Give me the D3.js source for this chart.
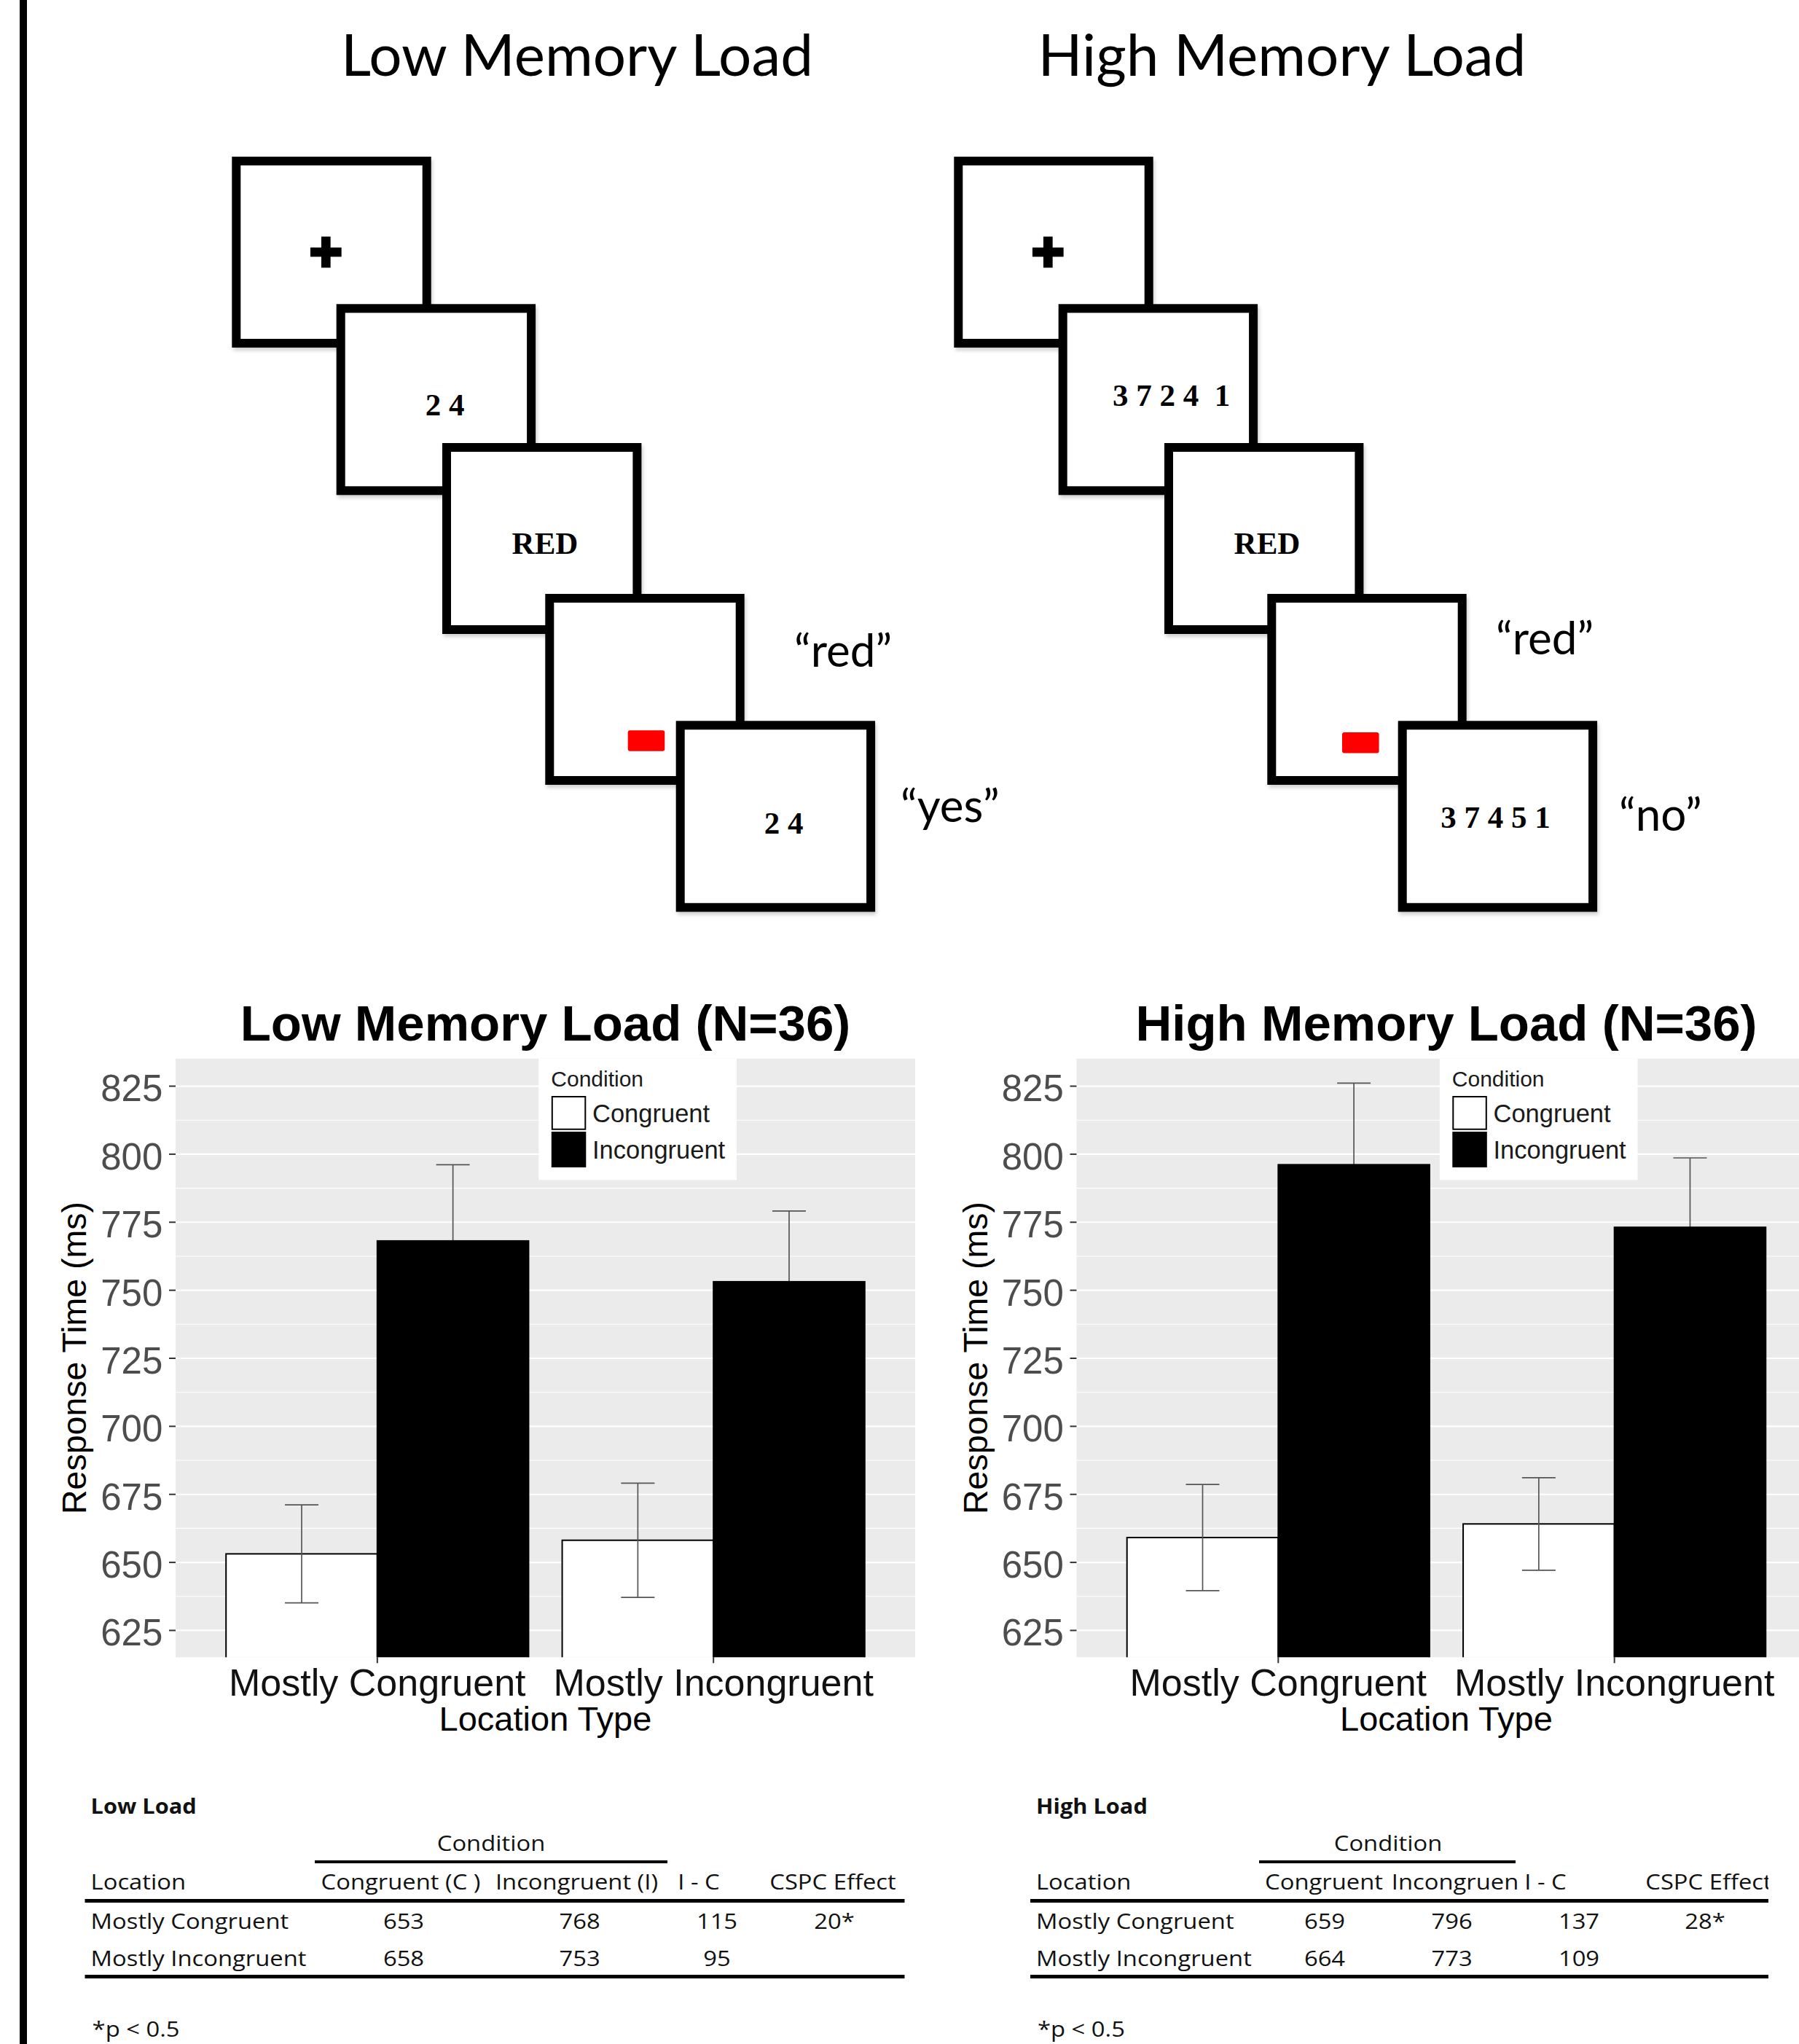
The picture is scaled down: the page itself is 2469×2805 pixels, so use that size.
<!DOCTYPE html>
<html>
<head>
<meta charset="utf-8">
<script src="https://cdn.jsdelivr.net/npm/d3@7"></script>
<style>
  html, body { margin: 0; padding: 0; background: #fff; }
  svg { display: block; }
</style>
</head>
<body>
<svg id="chart" width="2469" height="2805"></svg>
<script>
// ---------------- data ----------------
const locationTypes = ["Mostly Congruent", "Mostly Incongruent"];
const conditions = ["Congruent", "Incongruent"];
const lowMeans = [[653, 768], [658, 753]];
const lowErrors = [[18, 28], [21, 26]];
const highMeans = [[659, 796], [664, 773]];
const highErrors = [[19.5, 30], [17, 25.5]];
const yTicks = [625, 650, 675, 700, 725, 750, 775, 800, 825];
const panelTitles = ["Low Memory Load (N=36)", "High Memory Load (N=36)"];
const diagramTitles = ["Low Memory Load", "High Memory Load"];
const lowSequence = ["+", "2 4", "RED", "", "2 4"];
const highSequence = ["+", "3 7 2 4  1", "RED", "", "3 7 4 5 1"];
const lowResponses = ["\u201Cred\u201D", "\u201Cyes\u201D"];
const highResponses = ["\u201Cred\u201D", "\u201Cno\u201D"];
const tableTitles = ["Low Load", "High Load"];
const lowTableHeader = ["Location", "Congruent (C )", "Incongruent (I)", "I - C", "CSPC Effect"];
const highTableHeader = ["Location", "Congruent", "Incongruen", "I - C", "CSPC Effect"];
const lowTableRows = [["Mostly Congruent", "653", "768", "115", "20*"],
                      ["Mostly Incongruent", "658", "753", "95", ""]];
const highTableRows = [["Mostly Congruent", "659", "796", "137", "28*"],
                       ["Mostly Incongruent", "664", "773", "109", ""]];
const footnote = "*p < 0.5";

// ---------------- setup ----------------
const W = 2469, H = 2805;
const svg = d3.select("#chart");
const defs = svg.append("defs");
const shadow = defs.append("filter").attr("id", "boxShadow")
  .attr("x", "-10%").attr("y", "-10%").attr("width", "130%").attr("height", "130%");
shadow.append("feDropShadow").attr("dx", 2).attr("dy", 4).attr("stdDeviation", 2.5)
  .attr("flood-color", "#000").attr("flood-opacity", 0.18);

svg.append("rect").attr("width", W).attr("height", H).attr("fill", "#fff");
// left border rule
svg.append("rect").attr("x", 27).attr("y", 0).attr("width", 10).attr("height", H).attr("fill", "#000");

const ARIAL = "'Liberation Sans', Arial, Helvetica, sans-serif";
const HUMAN = "Lato, 'Open Sans', sans-serif";
const TABLEF = "'Open Sans', Lato, sans-serif";
const SERIF = "'Liberation Serif', 'Times New Roman', serif";

// ---------------- top diagrams ----------------
const boxOrigins = [[318.3, 215], [461.7, 417.3], [607, 608], [748.3, 815], [927.7, 989.3]];
const boxW = 273.4, boxH = 262, boxStroke = 12;

const diagrams = [
  { dx: 0, title: diagramTitles[0], titleX: 792, seq: lowSequence, resp: lowResponses,
    labels: [null, [148.8, 152.7], [141, 152], null, [147.8, 154.7]],
    red: [113.4, 187.3], respPos: [[1090, 915], [1236, 1128]] },
  { dx: 991, title: diagramTitles[1], titleX: 1759.5, seq: highSequence, resp: highResponses,
    labels: [null, [154.8, 139.7], [141, 152], null, [133.8, 146.7]],
    red: [102.7, 190], respPos: [[2053, 898], [2222, 1140]] }
];

diagrams.forEach(d => {
  const g = svg.append("g");
  g.append("text").attr("x", d.titleX).attr("y", 104).attr("text-anchor", "middle")
    .style("font-family", HUMAN).style("font-size", "80px").attr("fill", "#000").text(d.title);

  boxOrigins.forEach((o, i) => {
    const ox = o[0] + d.dx, oy = o[1];
    g.append("rect")
      .attr("x", ox + boxStroke / 2).attr("y", oy + boxStroke / 2)
      .attr("width", boxW - boxStroke).attr("height", boxH - boxStroke)
      .attr("fill", "#fff").attr("stroke", "#000").attr("stroke-width", boxStroke)
      .attr("filter", "url(#boxShadow)");
    if (d.seq[i] === "+") {
      const cx = ox + 129, cy = oy + 131, L = 42.7, T = 12.7;
      g.append("rect").attr("x", cx - L / 2).attr("y", cy - T / 2).attr("width", L).attr("height", T).attr("fill", "#000");
      g.append("rect").attr("x", cx - T / 2).attr("y", cy - L / 2).attr("width", T).attr("height", L).attr("fill", "#000");
    } else if (i === 3) {
      g.append("rect").attr("x", ox + d.red[0]).attr("y", oy + d.red[1])
        .attr("width", 50.6).attr("height", 28.4).attr("rx", 3).attr("fill", "#ff0000");
    } else if (d.labels[i]) {
      g.append("text").attr("x", ox + d.labels[i][0]).attr("y", oy + d.labels[i][1])
        .attr("text-anchor", "middle").style("white-space", "pre")
        .style("font-family", SERIF).style("font-weight", "bold").style("font-size", "43px")
        .attr("fill", "#000").text(d.seq[i]);
    }
  });
  d.resp.forEach((r, i) => {
    g.append("text").attr("x", d.respPos[i][0]).attr("y", d.respPos[i][1])
      .style("font-family", HUMAN).style("font-size", "62px").attr("fill", "#000").text(r);
  });
});

// ---------------- bar charts ----------------
const panelTop = 1452.7, panelBottom = 2274.3, panelW = 1015;
const color = d3.scaleOrdinal().domain(conditions).range(["#ffffff", "#000000"]);

function drawChart(panelLeft, title, means, errors, idx) {
  const y = d3.scaleLinear().domain([615, 835]).range([panelBottom, panelTop]);
  const x0 = d3.scaleBand().domain(locationTypes).range([panelLeft, panelLeft + panelW])
    .paddingInner(0.1).paddingOuter(0.15);
  const x1 = d3.scaleBand().domain(conditions).range([0, x0.bandwidth()]);
  const g = svg.append("g");

  const clipId = "panelClip" + idx;
  defs.append("clipPath").attr("id", clipId).append("rect")
    .attr("x", panelLeft).attr("y", panelTop).attr("width", panelW).attr("height", panelBottom - panelTop);

  // panel background
  g.append("rect").attr("x", panelLeft).attr("y", panelTop).attr("width", panelW)
    .attr("height", panelBottom - panelTop).attr("fill", "#ebebeb");

  // minor + major grid
  const minorTicks = yTicks.slice(0, -1).map((t, i) => (t + yTicks[i + 1]) / 2);
  const gMinor = g.append("g").attr("transform", `translate(${panelLeft},0)`)
    .call(d3.axisLeft(y).tickValues(minorTicks).tickSize(-panelW).tickFormat(""));
  gMinor.select(".domain").remove();
  gMinor.selectAll("line").attr("stroke", "#fff").attr("stroke-width", 1.1);
  const gMajor = g.append("g").attr("transform", `translate(${panelLeft},0)`)
    .call(d3.axisLeft(y).tickValues(yTicks).tickSize(-panelW).tickFormat(""));
  gMajor.select(".domain").remove();
  gMajor.selectAll("line").attr("stroke", "#fff").attr("stroke-width", 2.2);

  const data = locationTypes.flatMap((loc, i) => conditions.map((c, j) => ({
    loc, cond: c, mean: means[i][j], err: errors[i][j]
  })));

  const plot = g.append("g").attr("clip-path", `url(#${clipId})`);
  const ebBelow = plot.append("g");   // hidden inside black bars
  const barLayer = plot.append("g");
  const ebAbove = plot.append("g");

  barLayer.selectAll("rect.bar").data(data).join("rect").attr("class", "bar")
    .attr("x", d => x0(d.loc) + x1(d.cond))
    .attr("y", d => y(d.mean))
    .attr("width", x1.bandwidth())
    .attr("height", d => y(615) - y(d.mean) + 10)
    .attr("fill", d => color(d.cond))
    .attr("stroke", "#000").attr("stroke-width", 2);

  const capW = 46;
  const cxOf = d => x0(d.loc) + x1(d.cond) + x1.bandwidth() / 2;
  [[ebBelow, "Incongruent"], [ebAbove, "Congruent"]].forEach(([layer, cond]) => {
    const eb = layer.selectAll("g.eb").data(data.filter(d => d.cond === cond)).join("g").attr("class", "eb")
      .attr("stroke", "#555").attr("stroke-width", 1.7);
    eb.append("line").attr("x1", cxOf).attr("x2", cxOf)
      .attr("y1", d => y(d.mean - d.err)).attr("y2", d => y(d.mean + d.err));
    [-1, 1].forEach(s => {
      eb.append("line")
        .attr("x1", d => cxOf(d) - capW / 2).attr("x2", d => cxOf(d) + capW / 2)
        .attr("y1", d => y(d.mean + s * d.err)).attr("y2", d => y(d.mean + s * d.err));
    });
  });

  // legend
  const lg = g.append("g").attr("transform", `translate(${panelLeft + 498.3},${panelTop})`);
  lg.append("rect").attr("width", 271.7).attr("height", 166.6).attr("fill", "#fff");
  lg.append("text").attr("x", 17).attr("y", 38.3).style("font-family", ARIAL)
    .style("font-size", "30px").attr("fill", "#1a1a1a").text("Condition");
  const keyY = [51.3, 100.3], keyH = [46.7, 49];
  conditions.forEach((c, i) => {
    lg.append("rect").attr("x", 18.5).attr("y", keyY[i] + 1).attr("width", 45.5).attr("height", keyH[i] - 2)
      .attr("fill", color(c)).attr("stroke", "#000").attr("stroke-width", 2);
    lg.append("text").attr("x", 73.7).attr("y", 87.3 + i * 50).style("font-family", ARIAL)
      .style("font-size", "34.5px").attr("fill", "#1a1a1a").text(c);
  });

  // y axis
  const ya = g.append("g").attr("transform", `translate(${panelLeft},0)`)
    .call(d3.axisLeft(y).tickValues(yTicks).tickSize(9).tickPadding(8.7));
  ya.select(".domain").remove();
  ya.selectAll("line").attr("stroke", "#333").attr("stroke-width", 2);
  ya.selectAll("text").attr("fill", "#4d4d4d").attr("dy", "0.41em")
    .style("font-family", ARIAL).style("font-size", "51px");

  // x axis
  const xa = g.append("g").attr("transform", `translate(0,${panelBottom})`)
    .call(d3.axisBottom(x0).tickSize(8));
  xa.select(".domain").remove();
  xa.selectAll("line").attr("stroke", "#333").attr("stroke-width", 2);
  xa.selectAll("text").attr("y", 52.4).attr("dy", 0).attr("fill", "#111")
    .style("font-family", ARIAL).style("font-size", "52px");

  // titles
  g.append("text").attr("x", panelLeft + panelW / 2).attr("y", 2375).attr("text-anchor", "middle")
    .style("font-family", ARIAL).style("font-size", "47px").attr("fill", "#000").text("Location Type");
  g.append("text").attr("transform", `translate(${panelLeft - 123},${(panelTop + panelBottom) / 2}) rotate(-90)`)
    .attr("text-anchor", "middle").style("font-family", ARIAL).style("font-size", "46.5px")
    .attr("fill", "#000").text("Response Time (ms)");
  g.append("text").attr("x", panelLeft + panelW / 2).attr("y", 1428).attr("text-anchor", "middle")
    .style("font-family", ARIAL).style("font-weight", "bold").style("font-size", "69px")
    .attr("fill", "#000").text(title);
}

drawChart(241, panelTitles[0], lowMeans, lowErrors, 0);
drawChart(1477.5, panelTitles[1], highMeans, highErrors, 1);

// ---------------- tables ----------------
const tables = [
  { title: tableTitles[0], left: 124.6, header: lowTableHeader, rows: lowTableRows,
    headerX: [null, 550, 791.5, 959, 1143], valueX: [null, 554, 795.6, 984, 1145],
    condX: 674, condLine: [432, 916], lineX: [116.5, 1241.5], clipRight: W },
  { title: tableTitles[1], left: 1422, header: highTableHeader, rows: highTableRows,
    headerX: [null, 1817, 1997, 2121, 2345], valueX: [null, 1818, 1992.6, 2167, 2340],
    condX: 1905, condLine: [1728, 2080], lineX: [1414, 2539], clipRight: 2427 }
];
const SX = 1.13;
const rowY = [2647, 2698];

tables.forEach((t, k) => {
  const cid = "tableClip" + k;
  defs.append("clipPath").attr("id", cid).append("rect")
    .attr("x", 0).attr("y", 2400).attr("width", t.clipRight).attr("height", 405);
  const g = svg.append("g").attr("clip-path", `url(#${cid})`);
  const txt = (s, x, y, anchor, bold, sx) => g.append("text")
    .attr("transform", `translate(${x},${y}) scale(${sx || SX},1)`)
    .attr("text-anchor", anchor).style("font-family", TABLEF)
    .style("font-size", "29px").style("font-weight", bold ? "bold" : "normal")
    .attr("fill", "#111").text(s);

  txt(t.title, t.left, 2489, "start", true, 1.06);
  txt("Condition", t.condX, 2540, "middle");
  g.append("rect").attr("x", t.condLine[0]).attr("y", 2553).attr("width", t.condLine[1] - t.condLine[0])
    .attr("height", 4).attr("fill", "#000");
  t.header.forEach((h, i) => {
    if (i === 0) txt(h, t.left, 2593, "start");
    else txt(h, t.headerX[i], 2593, "middle");
  });
  g.append("rect").attr("x", t.lineX[0]).attr("y", 2606).attr("width", t.lineX[1] - t.lineX[0])
    .attr("height", 5).attr("fill", "#000");
  t.rows.forEach((r, ri) => {
    r.forEach((v, i) => {
      if (!v) return;
      if (i === 0) txt(v, t.left, rowY[ri], "start");
      else txt(v, t.valueX[i], rowY[ri], "middle");
    });
  });
  g.append("rect").attr("x", t.lineX[0]).attr("y", 2710).attr("width", t.lineX[1] - t.lineX[0])
    .attr("height", 5).attr("fill", "#000");
  txt(footnote, t.left + 2, 2795, "start");
});
</script>
</body>
</html>
